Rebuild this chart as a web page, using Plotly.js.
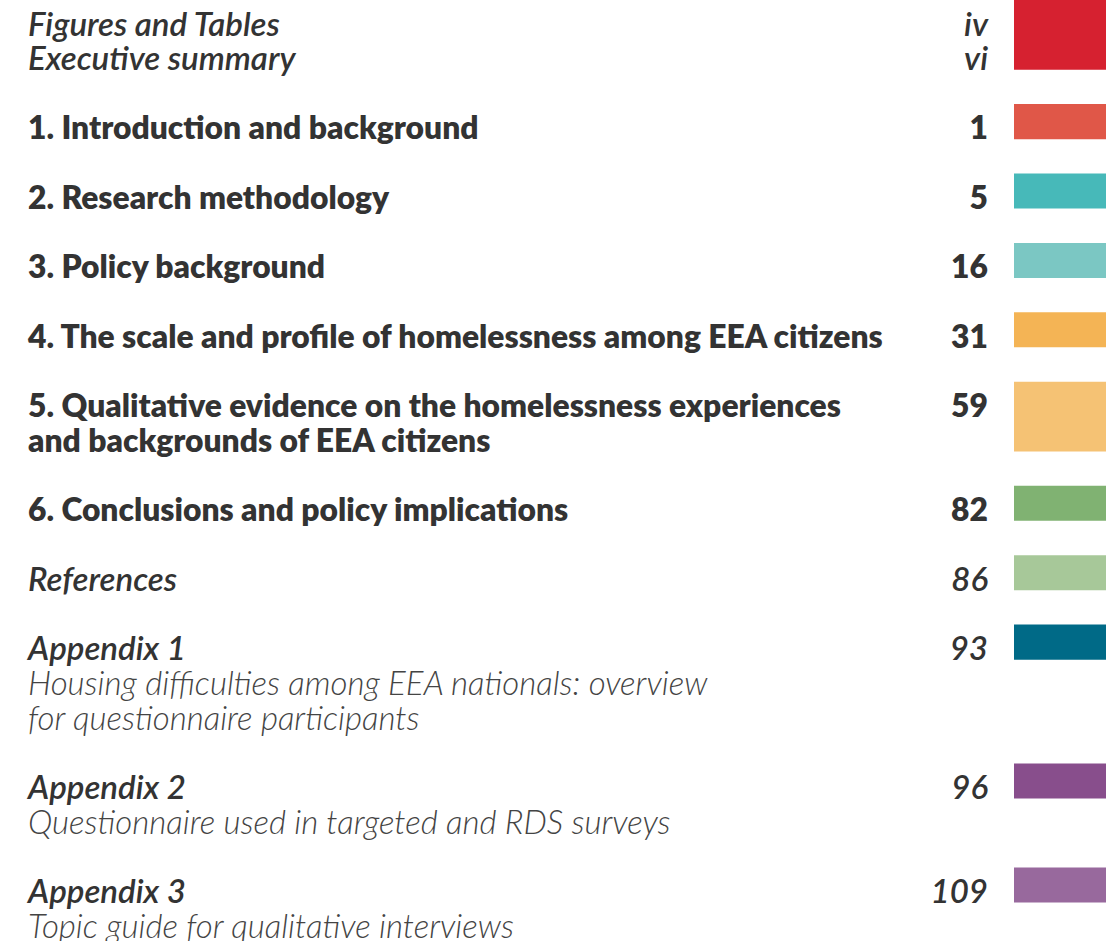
<!DOCTYPE html>
<html>
<head>
<meta charset="utf-8">
<script src="https://cdn.plot.ly/plotly-3.0.1.min.js"></script>
<style>html,body{margin:0;padding:0;background:#fff;}#chart{width:1106px;height:941px;}</style>
</head>
<body>
<div id="chart"></div>
<script>
// ---- data ----
const titles = [
  "Figures and Tables",
  "Executive summary",
  "1. Introduction and background",
  "2. Research methodology",
  "3. Policy background",
  "4. The scale and profile of homelessness among EEA citizens",
  "5. Qualitative evidence on the homelessness experiences<br>and backgrounds of EEA citizens",
  "6. Conclusions and policy implications",
  "References",
  "Appendix 1",
  "Appendix 2",
  "Appendix 3"
];
const pages = ["iv", "vi", "1", "5", "16", "31", "59", "82", "86", "93", "96", "109"];
const entryKind = ["front", "front", "chapter", "chapter", "chapter", "chapter", "chapter", "chapter", "back", "back", "back", "back"];
const tocLine = [0, 1, 3, 5, 7, 9, 11, 14, 16, 18, 22, 25];
const subtitles = [
  "Housing difficulties among EEA nationals: overview<br>for questionnaire participants",
  "Questionnaire used in targeted and RDS surveys",
  "Topic guide for qualitative interviews"
];
const subtitleOf = ["Appendix 1", "Appendix 2", "Appendix 3"];
const tabFirstLine = [0, 3, 5, 7, 9, 11, 14, 16, 18, 22, 25];
const tabLastLine  = [1, 3, 5, 7, 9, 12, 14, 16, 18, 22, 25];
const tabColors = ["#D62130", "#E05748", "#47B9B9", "#7BC7C3", "#F4B455", "#F5C274",
                   "#80B272", "#A7C899", "#006A87", "#884E8C", "#98699D"];

// ---- style ----
const W = 1106, H = 941, LINE_PX = 34.7, FIRST_PX = 25;
const TEXT_SHIFT = 0.07;           // baseline nudge (in line units)
const TEXT = "#333333";
const FONT = "Lato, 'Open Sans', sans-serif";
const titleX = 28, pageX = 988, tabX = 1060, tabW = 92;
const styles = {
  front:    {weight: 600, style: "italic", size: 33, color: TEXT},
  chapter:  {weight: 800, style: "normal", size: 31.8, color: TEXT},
  back:     {weight: 600, style: "italic", size: 33, color: TEXT},
  subtitle: {weight: 300, style: "italic", size: 33, color: "#444444"}
};

// split multi-line strings into one text mark per printed line
function lines(s) { return s.split("<br>"); }

const traces = [];
// colour tabs
traces.push({
  type: "bar",
  x: tabFirstLine.map(() => tabX),
  base: tabFirstLine.map(v => v - 0.72),
  y: tabFirstLine.map((v, i) => tabLastLine[i] - v + 1.01),
  width: tabFirstLine.map(() => tabW),
  marker: {color: tabColors, line: {width: 0}},
  hoverinfo: "skip",
  showlegend: false
});

function textTrace(xs, ys, txt, pos, st) {
  return {
    type: "scatter", mode: "text",
    x: xs, y: ys.map(v => v + TEXT_SHIFT), text: txt,
    textposition: pos,
    textfont: {family: FONT, size: st.size, color: st.color, weight: st.weight, style: st.style},
    marker: {size: 0}, hoverinfo: "skip", showlegend: false, cliponaxis: false
  };
}

["front", "chapter", "back"].forEach(kind => {
  const st = styles[kind];
  const tx = [], ty = [], tt = [], px = [], py = [], pt = [];
  titles.forEach((t, i) => {
    if (entryKind[i] !== kind) return;
    lines(t).forEach((ln, k) => { tx.push(titleX); ty.push(tocLine[i] + k); tt.push(ln); });
    px.push(pageX); py.push(tocLine[i]); pt.push(pages[i]);
  });
  traces.push(textTrace(tx, ty, tt, "middle right", st));
  traces.push(textTrace(px, py, pt, "middle left", st));
});
// subtitles
{
  const sx = [], sy = [], st = [];
  subtitles.forEach((s, k) => {
    const i = titles.indexOf(subtitleOf[k]);
    lines(s).forEach((ln, j) => { sx.push(titleX); sy.push(tocLine[i] + 1 + j); st.push(ln); });
  });
  traces.push(textTrace(sx, sy, st, "middle right", styles.subtitle));
}

const layout = {
  width: W, height: H,
  margin: {l: 0, r: 0, t: 0, b: 0, pad: 0},
  paper_bgcolor: "#ffffff", plot_bgcolor: "#ffffff",
  showlegend: false,
  barmode: "overlay",
  xaxis: {range: [0, W], autorange: false, visible: false, fixedrange: true},
  yaxis: {range: [(H - FIRST_PX) / LINE_PX, -FIRST_PX / LINE_PX], autorange: false, visible: false, fixedrange: true}
};
Plotly.newPlot("chart", traces, layout, {displayModeBar: false, staticPlot: true});
</script>
</body>
</html>
